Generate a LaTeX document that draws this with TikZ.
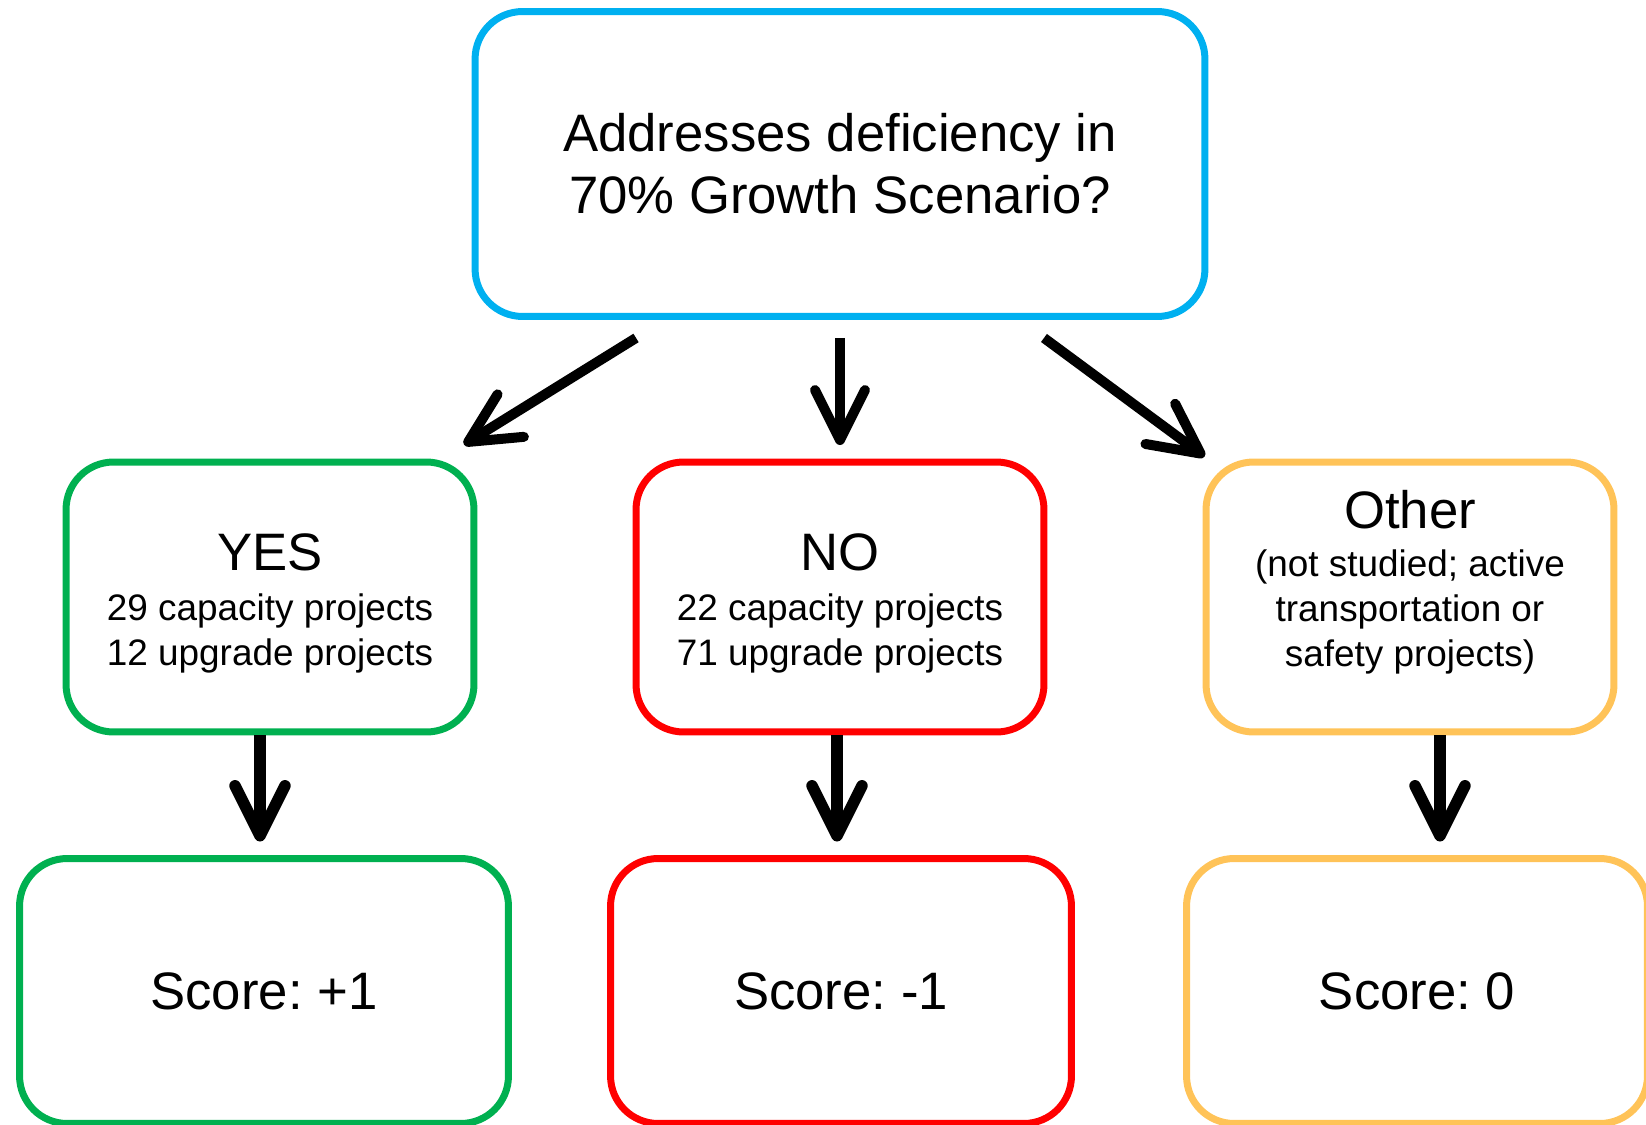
\documentclass[tikz,border=0pt]{standalone}
\usepackage{fontspec}
\setmainfont{Liberation Sans}
\frenchspacing
\usetikzlibrary{arrows.meta}

\definecolor{qblue}{HTML}{00B0F0}
\definecolor{yesgreen}{HTML}{00B050}
\definecolor{nored}{HTML}{FF0000}
\definecolor{otherorange}{HTML}{FFC358}

\begin{document}
\begin{tikzpicture}[x=0.02cm, y=-0.02cm,
  box/.style={draw, rounded corners=0.95cm, line width=0.14cm, align=center, inner sep=0pt},
  big/.style={font=\fontsize{30}{35.3}\selectfont},
  small/.style={font=\fontsize{21}{25.6}\selectfont},
  arr/.style={line width=0.2cm, -{Straight Barb[length=1cm, width=1cm, round]}}]
\useasboundingbox (0,0) rectangle (1646,1125);

\node[box, big, draw=qblue, minimum width=14.6cm, minimum height=6.1cm] (q) at (840,164) {Addresses deficiency in\\ 70\% Growth Scenario?};

\node[box, small, draw=yesgreen, minimum width=8.16cm, minimum height=5.4cm] (yes) at (270,597) {\mbox{}\\[2.7pt]{\fontsize{30}{35.3}\selectfont YES}\\[3pt] 29 capacity projects\\ 12 upgrade projects};
\node[box, small, draw=nored, minimum width=8.16cm, minimum height=5.4cm] (no) at (840,597) {\mbox{}\\[2.7pt]{\fontsize{30}{35.3}\selectfont NO}\\[3pt] 22 capacity projects\\ 71 upgrade projects};
\node[box, small, draw=otherorange, minimum width=8.16cm, minimum height=5.4cm] (other) at (1410,597) {{\fontsize{30}{35.3}\selectfont Other}\\[2pt] (not studied; active\\ transportation or\\ safety projects)\\[-4.4pt]\mbox{}};

\draw[arr] ([xshift=-4.08cm, yshift=-0.36cm]q.south) -- ([xshift=-0.27cm, yshift=0.28cm]yes.north east);
\draw[arr] ([yshift=-0.36cm]q.south) -- ([yshift=0.27cm]no.north);
\draw[arr] ([xshift=4.08cm, yshift=-0.36cm]q.south) -- ([xshift=0.04cm, yshift=0.04cm]other.north west);

\node[box, big, draw=yesgreen, minimum width=9.78cm, minimum height=5.3cm] (s1) at (264,991) {Score: +1};
\node[box, big, draw=nored, minimum width=9.22cm, minimum height=5.3cm] (s2) at (841,991) {Score: -1};
\node[box, big, draw=otherorange, minimum width=9.22cm, minimum height=5.3cm] (s3) at (1417,991) {Score: 0};

\draw[arr, line width=0.23cm, shorten >=0.27cm] ([xshift=-0.08cm]s1.north |- yes.south) -- ([xshift=-0.08cm]s1.north);
\draw[arr, line width=0.23cm, shorten >=0.27cm] ([xshift=-0.08cm]s2.north |- no.south) -- ([xshift=-0.08cm]s2.north);
\draw[arr, line width=0.23cm, shorten >=0.27cm] ([xshift=0.46cm]s3.north |- other.south) -- ([xshift=0.46cm]s3.north);

\end{tikzpicture}
\end{document}
